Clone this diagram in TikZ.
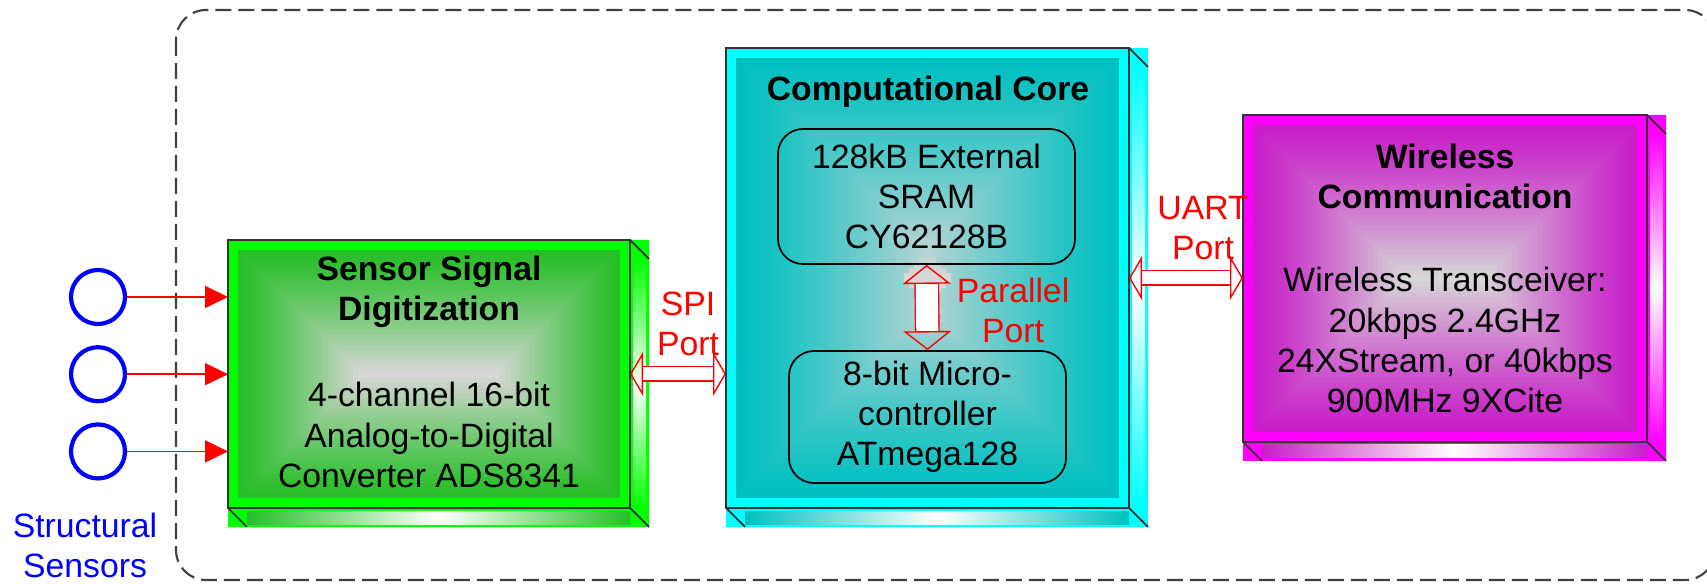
\documentclass[tikz,border=0pt]{standalone}
\usepackage{fontspec}
\setmainfont{Liberation Sans}
\usetikzlibrary{arrows.meta,positioning,calc,backgrounds}

\definecolor{grnhi}{RGB}{0,255,0}
\definecolor{grnlo}{RGB}{40,190,40}
\definecolor{cynhi}{RGB}{0,255,255}
\definecolor{cynlo}{RGB}{0,192,192}
\definecolor{maghi}{RGB}{255,0,255}
\definecolor{maglo}{RGB}{200,30,200}
\definecolor{core}{RGB}{215,215,215}

\begin{document}
\begin{tikzpicture}[
  font=\fontsize{9.6}{11.4}\selectfont,
  face/.style={rectangle,draw=black!80,line width=0.6pt,inner sep=0pt,outer sep=0pt},
  chip/.style={rectangle,draw=black,rounded corners=2.5mm,line width=0.5pt,align=center,inner sep=0pt},
  txt/.style={align=center,inner sep=0pt},
  ttl/.style={txt,font=\fontsize{9.6}{11.4}\selectfont\bfseries},
  lbl/.style={txt,text=red},
  sensor/.style={circle,draw=blue,line width=1.2pt,minimum size=0.54cm,inner sep=0pt},
  sig/.style={red,line width=0.5pt,-{Triangle[length=2.3mm,width=2.2mm]}},
  port/.style={red,line width=0.4pt,double=white,double distance=1.3mm,
    {Triangle[open,length=1.3mm,width=4.4mm]}-{Triangle[open,length=1.3mm,width=4.4mm]}},
  bus/.style={red,line width=0.4pt,double=white,double distance=2.2mm,
    {Triangle[open,length=1.9mm,width=4.8mm]}-{Triangle[open,length=1.9mm,width=4.8mm]}},
  group/.style={draw=black!75,line width=0.6pt,dash pattern=on 1.6mm off 0.7mm,rounded corners=3mm}
]
\useasboundingbox (0,0) rectangle (17.07,-5.84);
\draw[group] (1.76,-0.10) rectangle (17.15,-5.80);

% the three blocks
\node[face,minimum width=4.02cm,minimum height=2.68cm] (sd) at (4.29,-3.74) {};
\node[face,minimum width=4.03cm,minimum height=4.60cm] (cc) at (9.275,-2.78) {};
\node[face,minimum width=4.04cm,minimum height=3.27cm] (wc) at (14.45,-2.785) {};

\begin{scope}[on background layer]
\foreach \b/\hi/\lo/\n in {sd/grnhi/grnlo/26, cc/cynhi/cynlo/45, wc/maghi/maglo/32}{
  % side and bottom faces
  \fill[\hi] (\b.north east) -- ++(0.19,0) -- ($(\b.south east)+(0.19,-0.19)$)
    -- ($(\b.south west)+(0,-0.19)$) -- (\b.south west) -- cycle;
  \shade[top color=\hi,bottom color=\hi,middle color=white]
    ($(\b.north east)+(0.03,-0.19)$) rectangle ($(\b.south east)+(0.16,0)$);
  \shade[left color=\lo,right color=\lo,middle color=white]
    ($(\b.south west)+(0.19,-0.03)$) rectangle ($(\b.south east)+(0,-0.16)$);
  \draw[black!80,line width=0.5pt] (\b.north east) -- ++(0.19,-0.19)
    (\b.south west) -- ++(0.19,-0.19) (\b.south east) -- ++(0.19,-0.19);
  % front face
  \fill[\hi] (\b.north west) rectangle (\b.south east);
  \foreach \i in {2,...,\n}{
    \pgfmathsetmacro\p{100*(1-((\i-2)/(\n-2))^1.2)}
    \fill[\lo!\p!core] ($(\b.north west)+(\i*0.05,-\i*0.05)$)
      rectangle ($(\b.south east)+(-\i*0.05,\i*0.05)$);
  }
}
\end{scope}

% texts of the blocks
\node[ttl] (sdt) at (4.29,-2.92) {Sensor Signal\\Digitization};
\node[txt] (sdb) at (4.29,-4.35) {4-channel 16-bit\\Analog-to-Digital\\Converter ADS8341};
\node[ttl] (cct) at (9.28,-0.92) {Computational Core};
\node[chip,minimum width=2.97cm,minimum height=1.35cm] (sram) at (9.265,-1.965) {128kB External\\SRAM\\CY62128B};
\node[chip,minimum width=2.77cm,minimum height=1.32cm] (mcu) at (9.275,-4.17) {8-bit Micro-\\controller\\ATmega128};
\node[ttl] (wct) at (14.45,-1.76) {Wireless\\Communication};
\node[txt] (wcb) at (14.45,-3.40) {Wireless Transceiver:\\20kbps 2.4GHz\\24XStream, or 40kbps\\900MHz 9XCite};

% sensors
\node[sensor] (s1) at (0.98,-2.97) {};
\node[sensor,below=0.19cm of s1] (s2) {};
\node[sensor,below=0.19cm of s2] (s3) {};
\node[txt,text=blue] (sl) at (0.85,-5.45) {Structural\\Sensors};
\foreach \s in {s1,s2,s3}
  \draw[sig] (\s.east) -- (\s -| sd.west);

% ports
\draw[port] (sd.east) -- (sd.east -| cc.west);
\draw[port] (cc.east) -- (cc.east -| wc.west);
\draw[bus] (sram.south) -- (mcu.north);
\node[lbl] (spil) at (6.88,-3.24) {SPI\\Port};
\node[lbl] (uartl) at (12.03,-2.28) {UART\\Port};
\node[lbl] (parl) at (10.13,-3.10) {Parallel\\Port};
\end{tikzpicture}
\end{document}
